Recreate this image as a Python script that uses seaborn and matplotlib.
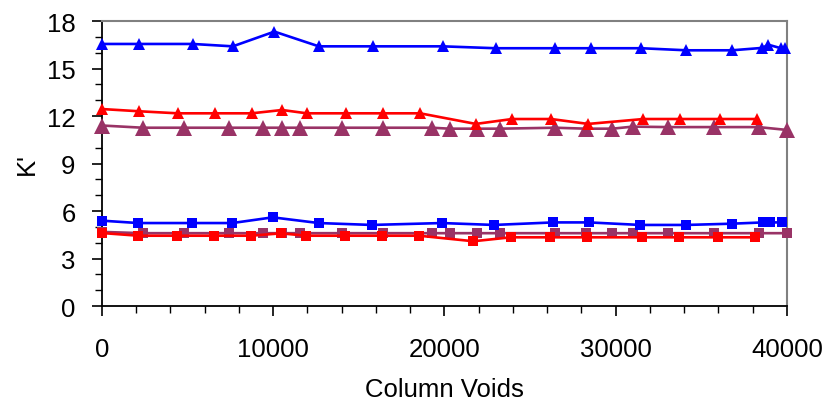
import matplotlib
matplotlib.use("Agg")
import matplotlib.pyplot as plt
import seaborn as sns
import pandas as pd
from matplotlib.ticker import MultipleLocator

# ---- data ----
blue_tri_x = [0, 2180, 5300, 7640, 10070, 12660, 15810, 19900, 23000, 26460, 28530,
              31500, 34130, 36790, 38540, 38920, 39650, 39900]
blue_tri_y = [16.55, 16.55, 16.55, 16.4, 17.33, 16.4, 16.4, 16.4, 16.28, 16.28, 16.28,
              16.28, 16.15, 16.15, 16.3, 16.5, 16.28, 16.28]

red_tri_x = [0, 2160, 4420, 6580, 8740, 10520, 11960, 14240, 16400, 18580,
             21830, 23950, 26230, 28390, 31620, 33770, 36060, 38250]
red_tri_y = [12.44, 12.3, 12.17, 12.17, 12.17, 12.38, 12.17, 12.17, 12.17, 12.17,
             11.5, 11.81, 11.81, 11.5, 11.81, 11.81, 11.81, 11.81]

purple_x = [0, 2380, 4810, 7440, 9420, 10520, 11570, 14020, 16400, 19260, 20300,
            21920, 23250, 26460, 28260, 29810, 31000, 33060, 35710, 38340, 40000]
purple_tri_y = [11.4, 11.26, 11.26, 11.26, 11.26, 11.26, 11.26, 11.26, 11.26, 11.26, 11.2,
                11.2, 11.2, 11.26, 11.2, 11.2, 11.33, 11.3, 11.3, 11.3, 11.12]
purple_sq_y = [4.68, 4.6, 4.6, 4.6, 4.6, 4.6, 4.6, 4.6, 4.6, 4.6, 4.6,
               4.6, 4.6, 4.6, 4.6, 4.6, 4.6, 4.6, 4.6, 4.6, 4.6]

blue_sq_x = [0, 2120, 5240, 7610, 9970, 12660, 15760, 19850, 22900, 26350, 28450,
             31430, 34120, 36800, 38610, 39020, 39720]
blue_sq_y = [5.39, 5.24, 5.24, 5.24, 5.6, 5.24, 5.12, 5.24, 5.12, 5.28, 5.28,
             5.12, 5.12, 5.2, 5.28, 5.28, 5.28]

red_sq_x = [0, 2120, 4400, 6540, 8690, 10460, 11920, 14200, 16340, 18520,
            21690, 23880, 26170, 28310, 31530, 33690, 36000, 38150]
red_sq_y = [4.61, 4.44, 4.44, 4.44, 4.44, 4.59, 4.44, 4.44, 4.44, 4.44,
            4.09, 4.34, 4.34, 4.34, 4.34, 4.34, 4.34, 4.34]

x_ticks = [0, 10000, 20000, 30000, 40000]
y_ticks = [0, 3, 6, 9, 12, 15, 18]

BLUE = "#0000FF"
RED = "#FF0000"
PURPLE = "#993366"

sns.set_style("white")
plt.rcParams["font.family"] = ["Liberation Sans", "DejaVu Sans"]

fig = plt.figure(figsize=(8.27, 4.06), dpi=100)
ax = fig.add_axes([0.1233, 0.2438, 0.8283, 0.702])

series = [
    (purple_x, purple_sq_y, PURPLE, "s", 6.5),
    (purple_x, purple_tri_y, PURPLE, "^", 11),
    (blue_tri_x, blue_tri_y, BLUE, "^", 8),
    (blue_sq_x, blue_sq_y, BLUE, "s", 6.5),
    (red_sq_x, red_sq_y, RED, "s", 6.5),
    (red_tri_x, red_tri_y, RED, "^", 8),
]
for xs, ys, col, mk, ms in series:
    df = pd.DataFrame({"x": xs, "y": ys})
    sns.lineplot(data=df, x="x", y="y", ax=ax, color=col, marker=mk,
                 markersize=ms, markeredgewidth=0, linewidth=1.9,
                 sort=False, clip_on=False, zorder=3)

ax.set_xlim(0, 40000)
ax.set_ylim(0, 18)
ax.set_xticks(x_ticks)
ax.set_xticklabels([str(v) for v in x_ticks])
ax.set_yticks(y_ticks)
ax.set_yticklabels([str(v) for v in y_ticks])
ax.xaxis.set_minor_locator(MultipleLocator(2000))
ax.yaxis.set_minor_locator(MultipleLocator(1))

ax.tick_params(axis="both", which="major", direction="out", length=7, width=1.2,
               color="black", labelsize=18.5, labelcolor="black")
ax.tick_params(axis="both", which="minor", direction="out", length=5, width=1.0,
               color="black")
ax.tick_params(axis="x", which="major", pad=15)
ax.tick_params(axis="y", which="major", pad=12)
ax.tick_params(bottom=True, left=True, which="both")

for side in ["left", "bottom"]:
    ax.spines[side].set_color("black")
    ax.spines[side].set_linewidth(1.3)
for side in ["top", "right"]:
    ax.spines[side].set_visible(True)
    ax.spines[side].set_color("#808080")
    ax.spines[side].set_linewidth(1.5)

ax.set_xlabel("Column Voids", fontsize=18.5, labelpad=12, color="black")
ax.set_ylabel("K'", fontsize=18.5, labelpad=6, color="black")
ax.grid(False)

fig.savefig("out.png", dpi=100, facecolor="white")
